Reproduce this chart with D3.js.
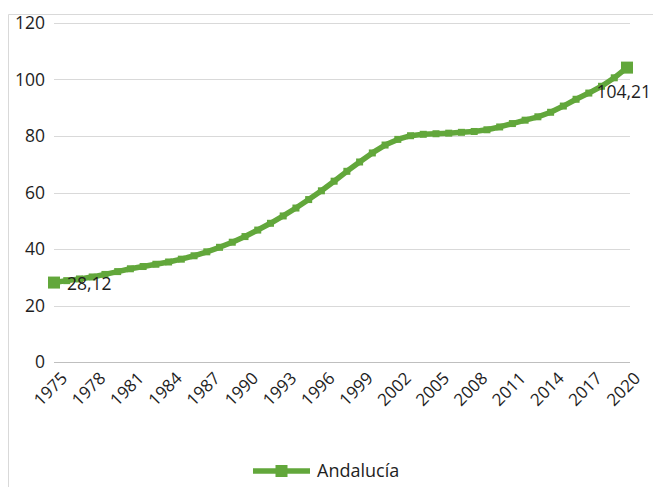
<!DOCTYPE html>
<html>
<head>
<meta charset="utf-8">
<script src="https://cdn.jsdelivr.net/npm/d3@7"></script>
<style>
  body { margin: 0; background: #fff; }
  text { font-family: "Open Sans", "Noto Sans", sans-serif; fill: #1e1e1e; }
</style>
</head>
<body>
<div class="line-chart"></div>
<script>
var years = d3.range(1975, 2021);
var andalucia = [28.12, 28.8, 29.4, 30.1, 31.0, 32.0, 33.0, 33.8, 34.6, 35.4,
                 36.4, 37.6, 39.0, 40.6, 42.4, 44.4, 46.7, 49.1, 51.7, 54.5,
                 57.5, 60.6, 64.0, 67.5, 70.8, 74.0, 76.8, 78.8, 80.1, 80.6,
                 80.8, 81.0, 81.3, 81.6, 82.2, 83.2, 84.4, 85.6, 86.8, 88.4,
                 90.6, 93.0, 95.2, 97.6, 100.6, 104.21];
var yTicks = [0, 20, 40, 60, 80, 100, 120];
var xTicks = d3.range(1975, 2021, 3);
var seriesName = "Andalucía";

var w = 653;
var h = 487;
var green = "#62a73b";

var x = d3.scaleLinear().domain([1975, 2020]).range([54, 627]);
var y = d3.scaleLinear().domain([0, 120]).range([362, 23]);

var svg = d3.select(".line-chart")
            .append("svg")
            .attr("width", w)
            .attr("height", h);

// outer frame
svg.append("path")
   .attr("d", "M8.5," + h + "V14.5H" + w)
   .attr("fill", "none")
   .attr("stroke", "#d9d9d9");

// gridlines
svg.append("g")
   .selectAll("line")
   .data(yTicks)
   .enter()
   .append("line")
   .attr("x1", 54)
   .attr("x2", 630)
   .attr("y1", function(d) { return Math.round(y(d)) + 0.5; })
   .attr("y2", function(d) { return Math.round(y(d)) + 0.5; })
   .attr("stroke", function(d) { return d === 0 ? "#bfbfbf" : "#d9d9d9"; });

// y labels
svg.append("g")
   .selectAll("text")
   .data(yTicks)
   .enter()
   .append("text")
   .attr("x", 45)
   .attr("y", function(d) { return y(d); })
   .attr("dy", "0.35em")
   .attr("text-anchor", "end")
   .attr("font-size", 17.5)
   .text(function(d) { return d; });

// x labels
svg.append("g")
   .selectAll("text")
   .data(xTicks)
   .enter()
   .append("text")
   .attr("transform", function(d) {
     return "translate(" + (x(d) + 6) + ",371) rotate(-45)";
   })
   .attr("text-anchor", "end")
   .attr("dy", "0.7em")
   .attr("font-size", 17)
   .text(function(d) { return d; });

var data = years.map(function(d, i) { return { year: d, value: andalucia[i] }; });

var line = d3.line()
             .x(function(d) { return x(d.year); })
             .y(function(d) { return y(d.value); });

svg.append("path")
   .datum(data)
   .attr("d", line)
   .attr("fill", "none")
   .attr("stroke", green)
   .attr("stroke-width", 5.5)
   .attr("stroke-linejoin", "round");

function markSize(i) { return (i === 0 || i === data.length - 1) ? 12 : 7; }

svg.append("g")
   .selectAll("rect")
   .data(data)
   .enter()
   .append("rect")
   .attr("x", function(d, i) { return x(d.year) - markSize(i) / 2; })
   .attr("y", function(d, i) { return y(d.value) - markSize(i) / 2; })
   .attr("width", function(d, i) { return markSize(i); })
   .attr("height", function(d, i) { return markSize(i); })
   .attr("fill", green);

// data labels for first and last points
var first = data[0];
var last = data[data.length - 1];
svg.append("text")
   .attr("x", x(first.year) + 13)
   .attr("y", y(first.value) + 1)
   .attr("dy", "0.35em")
   .attr("font-size", 17.5)
   .text(String(first.value).replace(".", ","));
svg.append("text")
   .attr("x", w - 2)
   .attr("y", y(last.value) + 24)
   .attr("dy", "0.35em")
   .attr("text-anchor", "end")
   .attr("font-size", 17.5)
   .text(String(last.value).replace(".", ","));

// legend
var legend = svg.append("g").attr("transform", "translate(253,471)");
legend.append("line")
      .attr("x1", 0).attr("x2", 57)
      .attr("stroke", green)
      .attr("stroke-width", 5.5);
legend.append("rect")
      .attr("x", 22.5).attr("y", -6)
      .attr("width", 12).attr("height", 12)
      .attr("fill", green);
legend.append("text")
      .attr("x", 64)
      .attr("dy", "0.35em")
      .attr("font-size", 18)
      .text(seriesName);
</script>
</body>
</html>
